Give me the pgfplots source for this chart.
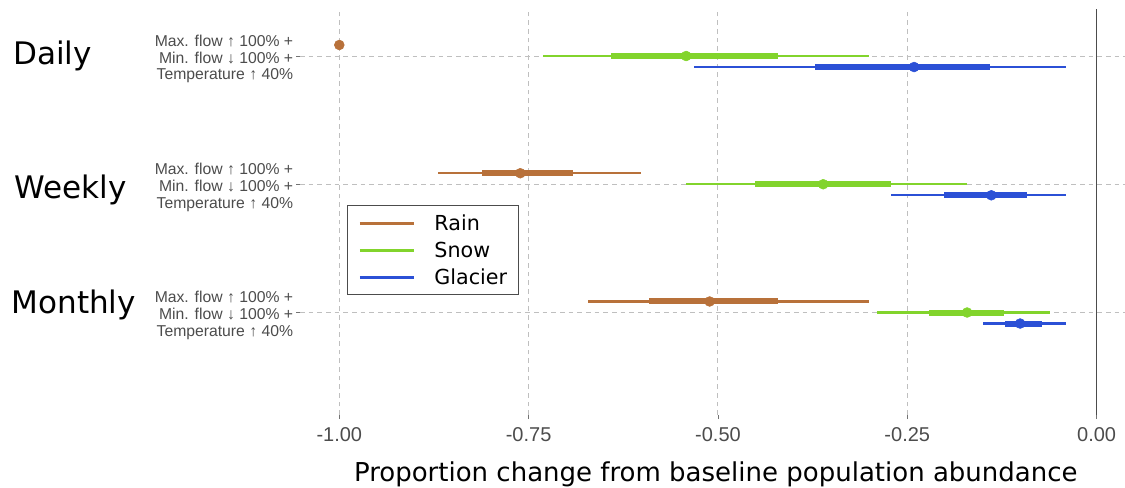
\documentclass[border=0pt]{standalone}
\usepackage{pgfplots}
\pgfplotsset{compat=1.18}
\usepackage{pgfplotstable}
\usepackage{fontspec}
\setmainfont{Liberation Sans}
\newfontfamily\dejavu{DejaVu Sans}
\newfontfamily\arial{Liberation Sans}
\definecolor{rainc}{HTML}{B8713A}
\definecolor{snowc}{HTML}{82D42C}
\definecolor{glacc}{HTML}{2B50D6}

% y: Daily = 3, Weekly = 2, Monthly = 1 (Rain +0.086, Glacier -0.086 dodge)
\pgfplotstableread{
y x lo95 hi95 lo50 hi50
3.086 -1.000 -1.000 -1.000 -1.000 -1.000
2.086 -0.761 -0.870 -0.602 -0.812 -0.691
1.086 -0.511 -0.672 -0.301 -0.591 -0.421
}\raintab
\pgfplotstableread{
y x lo95 hi95 lo50 hi50
3 -0.542 -0.731 -0.301 -0.641 -0.421
2 -0.361 -0.542 -0.171 -0.451 -0.272
1 -0.171 -0.290 -0.062 -0.221 -0.122
}\snowtab
\pgfplotstableread{
y x lo95 hi95 lo50 hi50
2.914 -0.241 -0.532 -0.040 -0.372 -0.141
1.914 -0.139 -0.272 -0.040 -0.202 -0.092
0.914 -0.101 -0.150 -0.040 -0.121 -0.072
}\glactab

\newcommand{\drawseries}[2]{%
  \addplot[only marks, mark=none, forget plot,
    error bars/.cd, x dir=both, x explicit, error mark=none,
    error bar style={line width=1.7pt, color=#2}]
    table[x=x, y=y, x error plus expr=\thisrow{hi95}-\thisrow{x},
          x error minus expr=\thisrow{x}-\thisrow{lo95}] {#1};
  \addplot[only marks, mark=none, forget plot,
    error bars/.cd, x dir=both, x explicit, error mark=none,
    error bar style={line width=4.5pt, color=#2}]
    table[x=x, y=y, x error plus expr=\thisrow{hi50}-\thisrow{x},
          x error minus expr=\thisrow{x}-\thisrow{lo50}] {#1};
  \addplot[only marks, mark=*, mark size=3.7pt, color=#2, forget plot]
    table[x=x, y=y] {#1};
}

\newcommand{\ylab}{Max. flow ↑ 100\% +\\Min. flow ↓ 100\% +\\Temperature ↑ 40\%}

\begin{document}
\begin{tikzpicture}
\path[use as bounding box] (0,0) rectangle (843.75pt,365.25pt);
\begin{axis}[
  at={(225pt,358.5pt)}, anchor=north west,
  scale only axis, width=618.75pt, height=304.5pt,
  xmin=-1.0519, xmax=0.0375, ymin=0.2008, ymax=3.3665,
  axis line style={draw=none},
  xtick={-1,-0.75,-0.5,-0.25,0},
  xticklabels={-1.00,-0.75,-0.50,-0.25,0.00},
  ytick={1,2,3},
  yticklabels={{\ylab},{\ylab},{\ylab}},
  xtick pos=left, ytick pos=left,
  tick align=outside, major tick length=3pt,
  tick style={black!55, line width=0.6pt},
  grid=major,
  major grid style={black!25, line width=0.7pt, dash pattern=on 3.5pt off 3pt},
  xticklabel style={font=\arial\fontsize{15}{18}\selectfont, text=black!70, inner sep=2pt, yshift=-4.5pt},
  yticklabel style={font=\arial\fontsize{11.8}{12.6}\selectfont, text=black!70, align=right, inner sep=2pt, yshift=-2.2pt},
  xlabel={Proportion change from baseline population abundance},
  xlabel style={font=\dejavu\fontsize{19.5}{23}\selectfont,
    at={(axis description cs:0.504,-0.1626)}, anchor=base},
  legend cell align=left,
  legend image code/.code={\draw[#1, line width=2.25pt] (0pt,0pt) -- (40.5pt,0pt);},
  legend style={at={(axis description cs:0.057,0.517)}, anchor=north west,
    draw=black!70, line width=0.6pt, fill=white,
    font=\dejavu\fontsize{15.5}{18}\selectfont,
    inner xsep=8.25pt, inner ysep=7.5pt, row sep=9pt, column sep=14.25pt,
    nodes={inner sep=0pt, text height=11.25pt, text depth=0pt}},
]
\addplot[forget plot, black!70, line width=1.2pt] coordinates {(0,0.2008) (0,3.3665)};
\drawseries{\raintab}{rainc}
\drawseries{\snowtab}{snowc}
\drawseries{\glactab}{glacc}
\addlegendimage{rainc}\addlegendentry{Rain}
\addlegendimage{snowc}\addlegendentry{Snow}
\addlegendimage{glacc}\addlegendentry{Glacier}
\end{axis}
\node[anchor=base west, inner sep=0pt, font=\dejavu\fontsize{23.3}{27}\selectfont] at (9.75pt,316.5pt) {Daily};
\node[anchor=base west, inner sep=0pt, font=\dejavu\fontsize{23.3}{27}\selectfont] at (10.5pt,216.75pt) {Weekly};
\node[anchor=base west, inner sep=0pt, font=\dejavu\fontsize{23.3}{27}\selectfont] at (8.5pt,130.5pt) {Monthly};
\end{tikzpicture}
\end{document}
